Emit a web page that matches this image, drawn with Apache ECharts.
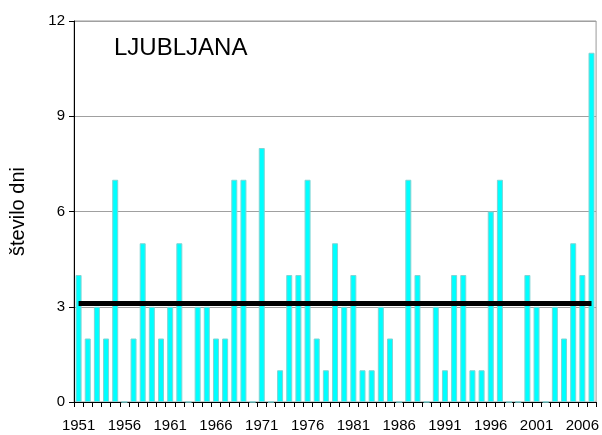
<!DOCTYPE html>
<html><head><meta charset="utf-8">
<script src="https://cdn.jsdelivr.net/npm/echarts@6/dist/echarts.min.js"></script>
<style>html,body{margin:0;padding:0;background:#fff}#c{width:602px;height:435px}</style>
</head><body><div id="c"></div>
<script>
const years = [];
for (let y = 1951; y <= 2007; y++) years.push(String(y));
const days = [4,2,3,2,7,0,2,5,3,2,3,5,0,3,3,2,2,7,7,0,8,0,1,4,4,7,2,1,5,3,4,1,1,3,2,0,7,4,0,3,1,4,4,1,1,6,7,0,0,4,3,0,3,2,5,4,11];
const meanValue = 3.1;
const yTicks = [0, 3, 6, 9, 12];
const titleText = 'LJUBLJANA';
const yName = 'število dni';

const chart = echarts.init(document.getElementById('c'), null, {renderer: 'canvas'});
chart.setOption({
  animation: false,
  backgroundColor: '#fff',
  title: {text: titleText, left: 109, top: 31, textStyle: {fontFamily: 'Liberation Sans', fontSize: 24, fontWeight: 'normal', color: '#000'}},
  grid: {left: 73, right: 5, top: 21, bottom: 33, show: true, borderColor: '#999', borderWidth: 1, backgroundColor: 'transparent'},
  xAxis: {
    type: 'category', data: years,
    axisLine: {lineStyle: {color: '#000', width: 1}},
    axisTick: {show: true, length: 5, interval: 0, lineStyle: {color: '#000'}},
    axisLabel: {interval: 4, margin: 16, fontFamily: 'Liberation Sans', fontSize: 15, color: '#000'},
    splitLine: {show: false}
  },
  yAxis: {
    type: 'value', min: yTicks[0], max: yTicks[yTicks.length - 1], interval: 3,
    name: yName, nameLocation: 'middle', nameGap: 46,
    nameTextStyle: {fontFamily: 'Liberation Sans', fontSize: 20, color: '#000'},
    axisLine: {show: true, lineStyle: {color: '#000', width: 1}},
    axisTick: {show: true, length: 5, lineStyle: {color: '#000'}},
    axisLabel: {margin: 9, fontFamily: 'Liberation Sans', fontSize: 15, color: '#000'},
    splitLine: {show: true, lineStyle: {color: '#a0a0a0', width: 1}}
  },
  series: [{
    type: 'bar', data: days, barWidth: 6,
    itemStyle: {color: '#00ffff', borderColor: '#7fd4d4', borderWidth: 1},
    markLine: {
      silent: true, symbol: ['none', 'none'], label: {show: false},
      lineStyle: {color: '#000', width: 5, type: 'solid'},
      data: [[{coord: [years[0], meanValue]}, {coord: [years[years.length - 1], meanValue]}]]
    }
  }]
});
</script></body></html>
